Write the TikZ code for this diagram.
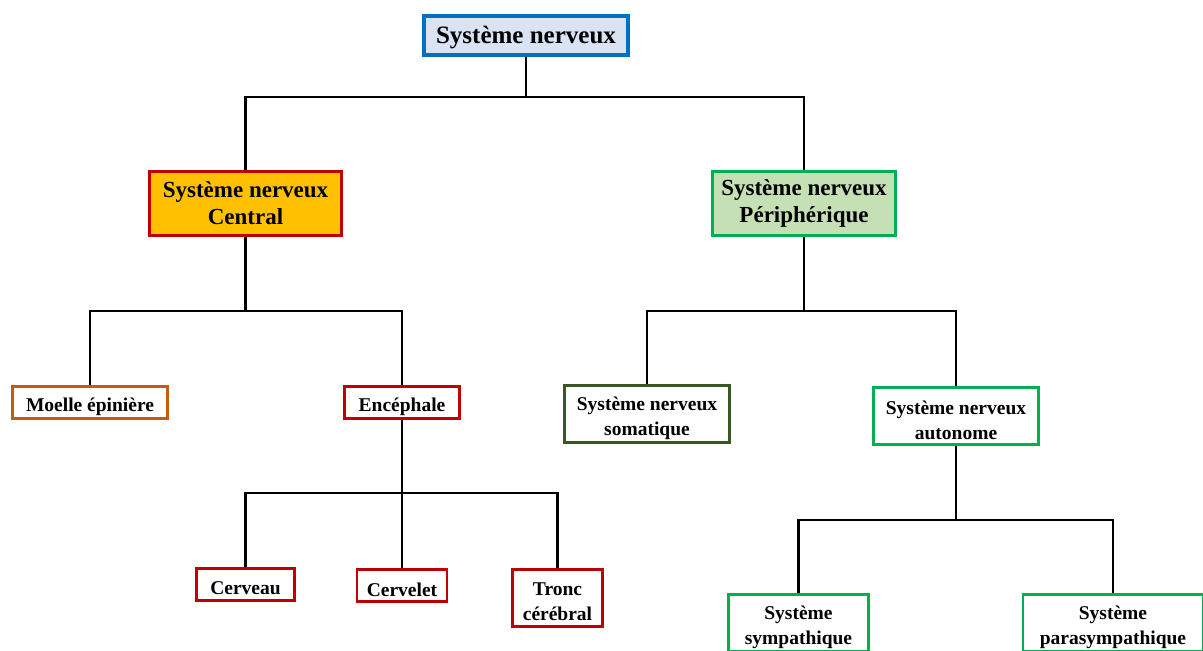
\documentclass[tikz,border=0pt]{standalone}
\usepackage{fontspec}
\setmainfont{Liberation Serif}
\begin{document}
\begin{tikzpicture}[x=1pt,y=-1pt,
  box/.style={draw, line width=2.6pt, inner sep=0pt, fill=white},
  lab/.style={align=center, inner sep=0pt, yshift=-4pt, font=\bfseries\fontsize{19.5}{25}\selectfont},
  midlab/.style={align=center, inner sep=0pt, font=\bfseries\fontsize{23}{27}\selectfont},
  toplab/.style={align=center, inner sep=0pt, yshift=-3pt, font=\bfseries\fontsize{25}{28}\selectfont},
  conn/.style={line width=2.8pt, black}]
\definecolor{topblue}{RGB}{0,112,192}
\definecolor{topfill}{RGB}{218,227,243}
\definecolor{cred}{RGB}{192,0,0}
\definecolor{corange}{RGB}{255,192,0}
\definecolor{cgreen}{RGB}{0,176,80}
\definecolor{pgfill}{RGB}{197,224,180}
\definecolor{moelle}{RGB}{197,90,17}
\definecolor{dgreen}{RGB}{56,87,35}
\useasboundingbox (0,0) rectangle (1203,651);
\clip (0,0) rectangle (1203,651);
\coordinate (b1) at (526,97);
\coordinate (b2) at (245.5,311);
\coordinate (b3) at (804,311);
\coordinate (b4) at (402,493);
\coordinate (b5) at (956,520);
% nodes
\node[box, line width=4pt, draw=topblue, fill=topfill, minimum width=204pt, minimum height=39pt,
  label={[toplab]center:Système nerveux}] (top) at (526,35) {};
\node[box, line width=3pt, draw=cred, fill=corange, minimum width=192pt, minimum height=64pt,
  label={[midlab]center:Système nerveux\\Central}] (central) at (245.5,203.5) {};
\node[box, line width=3pt, draw=cgreen, fill=pgfill, minimum width=183pt, minimum height=64pt,
  label={[midlab]center:Système nerveux\\Périphérique}] (periph) at (804,203.5) {};
\node[box, draw=moelle, minimum width=155pt, minimum height=32pt,
  label={[lab]center:Moelle épinière}] (moelle) at (90,402.5) {};
\node[box, draw=cred, minimum width=115pt, minimum height=32pt,
  label={[lab]center:Encéphale}] (enceph) at (402,402.5) {};
\node[box, draw=dgreen, minimum width=165pt, minimum height=57pt,
  label={[lab]center:Système nerveux\\somatique}] (somat) at (647,414) {};
\node[box, draw=cgreen, minimum width=165pt, minimum height=57pt,
  label={[lab]center:Système nerveux\\autonome}] (auton) at (956,416) {};
\node[box, draw=cred, minimum width=98pt, minimum height=32pt,
  label={[lab]center:Cerveau}] (cerveau) at (245.5,584.5) {};
\node[box, draw=cred, minimum width=90pt, minimum height=32pt,
  label={[lab]center:Cervelet}] (cervelet) at (402,585.5) {};
\node[box, draw=cred, minimum width=90pt, minimum height=57pt,
  label={[lab]center:Tronc\\cérébral}] (tronc) at (557.5,598) {};
\node[box, draw=cgreen, minimum width=140pt, minimum height=57pt,
  label={[lab]center:Système\\sympathique}] (symp) at (798.5,623) {};
\node[box, draw=cgreen, minimum width=180pt, minimum height=57pt,
  label={[lab]center:Système\\parasympathique}] (para) at (1113,623) {};
% connectors
\draw[conn] (top.south) -- (b1);
\draw[conn] (central.north) |- (b1) -| (periph.north);
\draw[conn] (central.south) -- (b2);
\draw[conn] (moelle.north) |- (b2) -| (enceph.north);
\draw[conn] (periph.south) -- (b3);
\draw[conn] (somat.north) |- (b3) -| (auton.north);
\draw[conn] (enceph.south) -- (cervelet.north);
\draw[conn] (cerveau.north) |- (b4) -| (tronc.north);
\draw[conn] (auton.south) -- (b5);
\draw[conn] (symp.north) |- (b5) -| (para.north);
\end{tikzpicture}
\end{document}
